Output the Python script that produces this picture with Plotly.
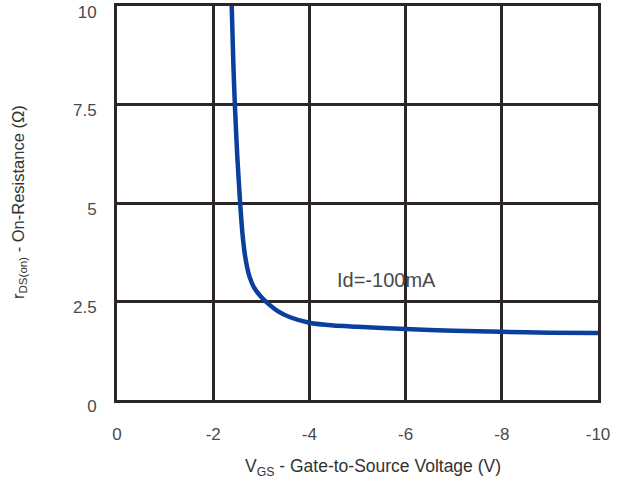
import plotly.graph_objects as go

# Data
vgs = [-2.38, -2.42, -2.45, -2.50, -2.56, -2.61, -2.67, -2.75, -2.85, -2.98,
       -3.13, -3.35, -3.60, -4.0, -4.5, -5.0, -6.0, -7.0, -8.0, -9.0, -10.0]
rds_on = [10.2, 8.5, 7.5, 6.2, 5.0, 4.2, 3.6, 3.15, 2.85, 2.64,
          2.46, 2.25, 2.10, 1.96, 1.89, 1.86, 1.80, 1.76, 1.73, 1.71, 1.70]

x_tickvals = [0, -2, -4, -6, -8, -10]
x_ticktext = ["0", "-2", "-4", "-6", "-8", "-10"]
y_tickvals = [0, 2.5, 5, 7.5, 10]
y_ticktext = ["0", "2.5", "5", "7.5", "10"]

annotation_text = "Id=-100mA"
x_title = "V<sub>GS</sub> - Gate-to-Source Voltage (V)"
y_title = "r<sub>DS(on)</sub> - On-Resistance (Ω)"

grid_color = "#2d2626"
label_color = "#4a4a4a"
title_color = "#333333"
font_family = "Liberation Sans, Arial, sans-serif"

fig = go.Figure()
fig.add_trace(go.Scatter(
    x=vgs, y=rds_on, mode="lines",
    line=dict(color="#0a3f9e", width=4.5, shape="spline", smoothing=0.6),
    hoverinfo="skip", showlegend=False,
))

fig.add_annotation(
    x=-5.6, y=3.05, text=annotation_text, showarrow=False,
    font=dict(family=font_family, size=20, color=label_color),
)

# axis titles as annotations (paper coords) for exact placement
fig.add_annotation(
    xref="paper", yref="paper", x=(373 - 117) / 481, y=-(467 - 400) / 394,
    text=x_title, showarrow=False, xanchor="center", yanchor="middle",
    font=dict(family=font_family, size=17.5, color=title_color),
)
fig.add_annotation(
    xref="paper", yref="paper", x=-(117 - 19) / 481, y=(400 - 202) / 394,
    text=y_title, showarrow=False, xanchor="center", yanchor="middle",
    textangle=-90,
    font=dict(family=font_family, size=16.5, color=title_color),
)

fig.update_layout(
    width=627, height=485,
    margin=dict(l=117, r=29, t=6, b=85),
    paper_bgcolor="white", plot_bgcolor="white",
    font=dict(family=font_family, size=17, color=label_color),
)

fig.update_xaxes(
    range=[0, -10], tickvals=x_tickvals, ticktext=x_ticktext,
    showgrid=True, gridcolor=grid_color, gridwidth=3,
    showline=True, linecolor=grid_color, linewidth=3, mirror=True,
    zeroline=False, ticks="outside", ticklen=17, tickcolor="rgba(0,0,0,0)",
    tickfont=dict(size=17, color=label_color),
    automargin=False,
)
fig.update_yaxes(
    range=[0, 10], tickvals=y_tickvals, ticktext=y_ticktext,
    showgrid=True, gridcolor=grid_color, gridwidth=3,
    showline=True, linecolor=grid_color, linewidth=3, mirror=True,
    zeroline=False, ticks="outside", ticklen=14, tickcolor="rgba(0,0,0,0)",
    tickfont=dict(size=17, color=label_color),
    ticklabelshift=6, ticklabeloverflow="allow",
    automargin=False,
)

fig.write_html("out.html")
